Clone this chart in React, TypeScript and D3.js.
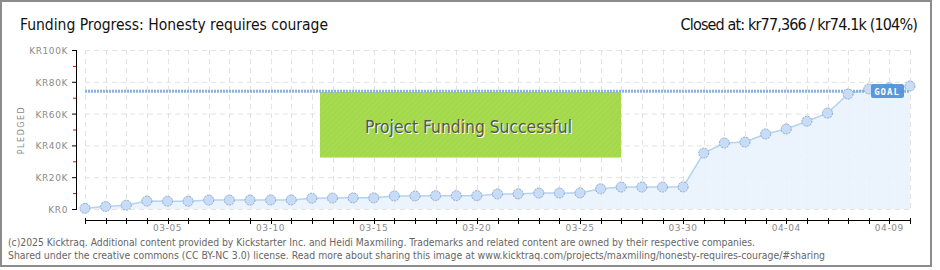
import { useRef, useEffect } from "react";
import * as d3 from "d3";

const dates = [
	"03-01", "03-02", "03-03", "03-04", "03-05", "03-06", "03-07", "03-08", "03-09", "03-10",
	"03-11", "03-12", "03-13", "03-14", "03-15", "03-16", "03-17", "03-18", "03-19", "03-20",
	"03-21", "03-22", "03-23", "03-24", "03-25", "03-26", "03-27", "03-28", "03-29", "03-30",
	"03-31", "04-01", "04-02", "04-03", "04-04", "04-05", "04-06", "04-07", "04-08", "04-09",
	"04-10",
];

const pledged = [
	400, 1500, 2400, 5000, 4900, 4900, 5600, 5600, 5600, 5700,
	5700, 6800, 6900, 7000, 7000, 8200, 8200, 8400, 8400, 8400,
	9500, 9500, 10000, 10000, 10100, 12700, 13800, 13800, 13800, 13900,
	35200, 41500, 42100, 47200, 50300, 55200, 60300, 72300, 75500, 76200,
	77366,
];

const goal = 74100;
const yTicks = [0, 20000, 40000, 60000, 80000, 100000];
const yTickLabels = ["KR0", "KR20K", "KR40K", "KR60K", "KR80K", "KR100K"];
const xLabelDates = ["03-05", "03-10", "03-15", "03-20", "03-25", "03-30", "04-04", "04-09"];

const title = "Funding Progress: Honesty requires courage";
const closedText = "Closed at: kr77,366 / kr74.1k (104%)";
const footer1 =
	"(c)2025 Kicktraq. Additional content provided by Kickstarter Inc. and Heidi Maxmiling. Trademarks and related content are owned by their respective companies.";
const footer2 =
	"Shared under the creative commons (CC BY-NC 3.0) license. Read more about sharing this image at www.kicktraq.com/projects/maxmiling/honesty-requires-courage/#sharing";

const parse = (s: string) => new Date(2025, +s.slice(0, 2) - 1, +s.slice(3, 5));
const FONT = "DejaVu Sans Condensed, DejaVu Sans, sans-serif";

export default function App() {
	const ref = useRef<SVGSVGElement>(null);

	useEffect(() => {
		document.body.style.margin = "0";
		const left = 85;
		const right = 910;
		const top = 50;
		const bottom = 209;

		const svg = d3.select(ref.current);
		svg.selectAll("*").remove();

		const data = dates.map((d, i) => ({ date: parse(d), value: pledged[i] }));

		// ---- Scales ----
		const x = d3.scaleTime().domain([parse(dates[0]), parse(dates[dates.length - 1])]).range([left, right]);
		const y = d3.scaleLinear().domain([0, 100000]).range([bottom, top]);

		// ---- Frame ----
		svg.append("rect")
			.attr("x", 1)
			.attr("y", 1)
			.attr("width", 930)
			.attr("height", 265)
			.attr("fill", "none")
			.attr("stroke", "#8c8c8c")
			.attr("stroke-width", 2);

		// ---- Titles ----
		svg.append("text")
			.attr("x", 20)
			.attr("y", 30)
			.attr("font-family", FONT)
			.attr("font-size", 16)
			.attr("fill", "#111")
			.attr("textLength", 308)
			.attr("lengthAdjust", "spacingAndGlyphs")
			.text(title);

		svg.append("text")
			.attr("x", 917)
			.attr("y", 30)
			.attr("text-anchor", "end")
			.attr("font-family", FONT)
			.attr("font-size", 16)
			.attr("letter-spacing", -0.85)
			.attr("fill", "#111")
			.text(closedText);

		// ---- Grid ----
		const grid = svg.append("g").attr("stroke", "#e2e2e2").attr("stroke-dasharray", "5,4");
		grid.selectAll("line.h")
			.data(yTicks)
			.enter()
			.append("line")
			.attr("x1", left)
			.attr("x2", right)
			.attr("y1", (d) => y(d) + 0.5)
			.attr("y2", (d) => y(d) + 0.5);
		grid.selectAll("line.v")
			.data(data)
			.enter()
			.append("line")
			.attr("x1", (d) => Math.round(x(d.date)) + 0.5)
			.attr("x2", (d) => Math.round(x(d.date)) + 0.5)
			.attr("y1", top)
			.attr("y2", bottom);

		// ---- Success box ----
		const defs = svg.append("defs");
		const pat = defs
			.append("pattern")
			.attr("id", "hatch")
			.attr("width", 4)
			.attr("height", 4)
			.attr("patternUnits", "userSpaceOnUse")
			.attr("patternTransform", "rotate(45)");
		pat.append("rect").attr("width", 4).attr("height", 4).attr("fill", "#a7db4e");
		pat.append("line").attr("x1", 0).attr("y1", 0).attr("x2", 0).attr("y2", 4).attr("stroke", "#a0d447").attr("stroke-width", 1.5);

		svg.append("rect")
			.attr("x", 320)
			.attr("y", 92)
			.attr("width", 301)
			.attr("height", 66)
			.attr("fill", "url(#hatch)");
		svg.append("line")
			.attr("x1", 320)
			.attr("x2", 621)
			.attr("y1", 157.5)
			.attr("y2", 157.5)
			.attr("stroke", "#cdeb96");

		svg.append("text")
			.attr("x", 366)
			.attr("y", 134)
			.attr("font-family", FONT)
			.attr("font-size", 18)
			.attr("fill", "#fff")
			.attr("textLength", 207)
			.attr("lengthAdjust", "spacingAndGlyphs")
			.text("Project Funding Successful");
		svg.append("text")
			.attr("x", 365)
			.attr("y", 133)
			.attr("font-family", FONT)
			.attr("font-size", 18)
			.attr("fill", "#555")
			.attr("textLength", 207)
			.attr("lengthAdjust", "spacingAndGlyphs")
			.text("Project Funding Successful");

		// ---- Area + line ----
		svg.append("path")
			.datum(data)
			.attr("fill", "#e9f2fc")
			.attr("fill-opacity", 0.9)
			.attr(
				"d",
				d3
					.area<{ date: Date; value: number }>()
					.x((d) => x(d.date))
					.y0(bottom)
					.y1((d) => y(d.value))
			);
		svg.append("path")
			.datum(data)
			.attr("fill", "none")
			.attr("stroke", "#b3d3f3")
			.attr("stroke-width", 1.5)
			.attr(
				"d",
				d3
					.line<{ date: Date; value: number }>()
					.x((d) => x(d.date))
					.y((d) => y(d.value))
			);

		// ---- Goal line ----
		svg.append("line")
			.attr("x1", left)
			.attr("x2", right)
			.attr("y1", y(goal))
			.attr("y2", y(goal))
			.attr("stroke", "#86b3e6")
			.attr("stroke-width", 3)
			.attr("stroke-dasharray", "2,1");

		// ---- Points ----
		svg.selectAll("circle.pt")
			.data(data)
			.enter()
			.append("circle")
			.attr("cx", (d) => x(d.date))
			.attr("cy", (d) => y(d.value))
			.attr("r", 5)
			.attr("fill", "#c6dcf7")
			.attr("stroke", "#90a8c8")
			.attr("stroke-width", 1)
			.attr("stroke-dasharray", "2,1");

		// ---- Goal label ----
		svg.append("rect")
			.attr("x", 871)
			.attr("y", 84)
			.attr("width", 33)
			.attr("height", 14)
			.attr("rx", 2)
			.attr("fill", "#4b8fd8")
			.attr("fill-opacity", 0.9);
		svg.append("text")
			.attr("x", 887)
			.attr("y", 94.5)
			.attr("text-anchor", "middle")
			.attr("font-family", "DejaVu Sans Mono, monospace")
			.attr("font-size", 9)
			.attr("font-weight", "bold")
			.attr("letter-spacing", 1)
			.attr("fill", "#fff")
			.text("GOAL");

		// ---- Y axis ----
		svg.append("line")
			.attr("x1", 76.5)
			.attr("x2", 76.5)
			.attr("y1", top)
			.attr("y2", bottom + 1)
			.attr("stroke", "#000");
		svg.selectAll("line.ytick")
			.data(yTicks)
			.enter()
			.append("line")
			.attr("x1", 72)
			.attr("x2", 77)
			.attr("y1", (d) => y(d) + 0.5)
			.attr("y2", (d) => y(d) + 0.5)
			.attr("stroke", "#000");
		svg.selectAll("line.yminor")
			.data(yTicks.slice(0, -1).map((d) => d + 10000))
			.enter()
			.append("line")
			.attr("x1", 73)
			.attr("x2", 76)
			.attr("y1", (d) => y(d) + 0.5)
			.attr("y2", (d) => y(d) + 0.5)
			.attr("stroke", "#e00");
		svg.selectAll("text.ytick")
			.data(yTicks)
			.enter()
			.append("text")
			.attr("x", 68)
			.attr("y", (d) => y(d) + 4)
			.attr("text-anchor", "end")
			.attr("font-family", "DejaVu Sans, sans-serif")
			.attr("font-size", 9)
			.attr("letter-spacing", 0.6)
			.attr("fill", "#8a8a8a")
			.text((d, i) => yTickLabels[i]);

		svg.append("text")
			.attr("transform", `translate(24,130) rotate(-90)`)
			.attr("text-anchor", "middle")
			.attr("font-family", "DejaVu Sans, sans-serif")
			.attr("font-size", 8)
			.attr("letter-spacing", 1.5)
			.attr("fill", "#8a8a8a")
			.text("PLEDGED");

		// ---- X axis ----
		svg.append("line")
			.attr("x1", left)
			.attr("x2", right + 1)
			.attr("y1", 220.5)
			.attr("y2", 220.5)
			.attr("stroke", "#000");
		svg.selectAll("line.xtick")
			.data(data)
			.enter()
			.append("line")
			.attr("x1", (d) => Math.round(x(d.date)) + 0.5)
			.attr("x2", (d) => Math.round(x(d.date)) + 0.5)
			.attr("y1", 218)
			.attr("y2", 224)
			.attr("stroke", "#000");
		svg.selectAll("text.xlab")
			.data(xLabelDates)
			.enter()
			.append("text")
			.attr("x", (d) => x(parse(d)))
			.attr("y", 231)
			.attr("text-anchor", "middle")
			.attr("font-family", "DejaVu Sans, sans-serif")
			.attr("font-size", 9)
			.attr("letter-spacing", 0.6)
			.attr("fill", "#8a8a8a")
			.text((d) => d);

		// ---- Footer ----
		svg.append("text")
			.attr("x", 8)
			.attr("y", 246)
			.attr("font-family", FONT)
			.attr("font-size", 10)
			.attr("fill", "#666")
			.attr("textLength", 747)
			.attr("lengthAdjust", "spacingAndGlyphs")
			.text(footer1);
		svg.append("text")
			.attr("x", 8)
			.attr("y", 259)
			.attr("font-family", FONT)
			.attr("font-size", 10)
			.attr("fill", "#666")
			.attr("textLength", 817)
			.attr("lengthAdjust", "spacingAndGlyphs")
			.text(footer2);
	}, []);

	return <svg ref={ref} width={940} height={270} style={{ display: "block", background: "#fff" }} />;
}
